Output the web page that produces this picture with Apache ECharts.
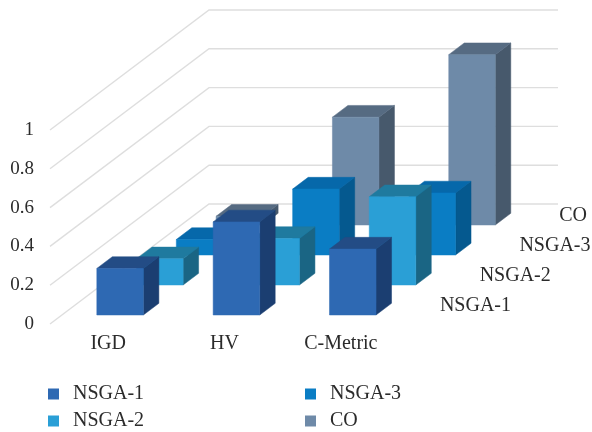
<!DOCTYPE html>
<html>
<head>
<meta charset="utf-8">
<style>html,body{margin:0;padding:0;background:#fff}#chart{width:592px;height:432px}</style>
<script src="https://cdn.jsdelivr.net/npm/echarts@6/dist/echarts.min.js"></script>
</head>
<body>
<div id="chart"></div>
<script>
// Performance metrics per algorithm, read on a 0-1 scale
const categories = ['IGD', 'HV', 'C-Metric'];
const yTicks = [0, 0.2, 0.4, 0.6, 0.8, 1];
const lanes = ['NSGA-1', 'NSGA-2', 'NSGA-3', 'CO'];
const nsga1 = [0.24, 0.48, 0.34];
const nsga2 = [0.135, 0.24, 0.455];
const nsga3 = [0.08, 0.34, 0.32];
const co = [0.045, 0.556, 0.878];
const laneValues = [nsga1, nsga2, nsga3, co];

// Face colours for each lane: front, side, top
const laneColors = [
  ['#2e69b3', '#1b3e71', '#234c85'],
  ['#2a9fd6', '#1a6584', '#1f7a9f'],
  ['#0a7dc4', '#05598f', '#0668aa'],
  ['#6e8aa8', '#47596c', '#566b82']
];

// Oblique projection of the depth axis
const LANE_DX = 39.75, LANE_DY = -30;
const BAR_INSET = 0.3;   // gap before a bar, as a share of the lane
const BAR_DEPTH = 0.39;  // bar depth, as a share of the lane
const BAR_WIDTH = 0.4;   // bar width, as a share of the category band

const shift = (p, d) => [p[0] + LANE_DX * d, p[1] + LANE_DY * d];
const FONT = '"Liberation Serif", serif';
const TEXT_COLOR = '#2b2b2b';

function barSeries(lane) {
  return {
    type: 'custom',
    name: lanes[lane],
    coordinateSystem: 'cartesian2d',
    silent: true,
    itemStyle: { color: laneColors[lane][0] },
    data: laneValues[lane].map((v, i) => [i, v]),
    encode: { x: 0, y: 1 },
    renderItem(params, api) {
      const i = api.value(0), v = api.value(1);
      const w = api.size([1, 0])[0] * BAR_WIDTH;
      const base = api.coord([i, 0]);
      const top = api.coord([i, v]);
      const d0 = lane + BAR_INSET, d1 = d0 + BAR_DEPTH;
      const x0 = base[0] - w / 2, x1 = base[0] + w / 2;
      const fbl = shift([x0, base[1]], d0), fbr = shift([x1, base[1]], d0);
      const ftl = shift([x0, top[1]], d0), ftr = shift([x1, top[1]], d0);
      const bbr = shift([x1, base[1]], d1);
      const btl = shift([x0, top[1]], d1), btr = shift([x1, top[1]], d1);
      const colors = laneColors[lane];
      const face = (points, fill) => ({
        type: 'polygon', shape: { points }, style: { fill, stroke: fill, lineWidth: 0.5 }
      });
      return {
        type: 'group',
        children: [
          face([fbr, bbr, btr, ftr], colors[1]),
          face([ftl, ftr, btr, btl], colors[2]),
          face([fbl, fbr, ftr, ftl], colors[0])
        ]
      };
    }
  };
}

const wallSeries = {
  type: 'custom',
  coordinateSystem: 'cartesian2d',
  silent: true,
  data: yTicks.map(v => [0, v]),
  encode: { x: 0, y: 1 },
  z: 1,
  renderItem(params, api) {
    const y = api.coord([0, api.value(1)])[1];
    const left = params.coordSys.x;
    const front = [left, y];
    const back = shift(front, lanes.length);
    const end = [back[0] + params.coordSys.width, back[1]];
    return {
      type: 'polyline',
      shape: { points: [front, back, end] },
      style: { fill: null, stroke: '#dedede', lineWidth: 1.4 }
    };
  }
};

const laneLabelSeries = {
  type: 'custom',
  coordinateSystem: 'cartesian2d',
  silent: true,
  data: lanes.map((name, i) => [i]),
  z: 5,
  renderItem(params, api) {
    const i = api.value(0);
    const y = api.coord([0, 0])[1];
    const corner = [params.coordSys.x + params.coordSys.width, y];
    const p = shift(corner, i + 0.5);
    return {
      type: 'text',
      x: p[0] + 21,
      y: p[1] - 3,
      style: { text: lanes[i], fill: TEXT_COLOR, font: '20px ' + FONT, align: 'left', verticalAlign: 'middle' }
    };
  }
};

const legendBase = {
  orient: 'vertical',
  icon: 'rect',
  padding: 0,
  itemWidth: 11,
  itemHeight: 11,
  itemGap: 7,
  selectedMode: false,
  textStyle: { fontFamily: FONT, fontSize: 20, color: TEXT_COLOR, padding: [0, 0, 0, 9], lineHeight: 20 }
};

const chart = echarts.init(document.getElementById('chart'), null, { renderer: 'canvas' });
chart.setOption({
  animation: false,
  backgroundColor: '#fff',
  grid: { left: 50, right: 193, top: 130, bottom: 108 },
  xAxis: {
    type: 'category',
    data: categories,
    axisLine: { show: false },
    axisTick: { show: false },
    axisLabel: { fontFamily: FONT, fontSize: 20, color: TEXT_COLOR, margin: 10 }
  },
  yAxis: {
    type: 'value',
    min: 0,
    max: 1,
    interval: 0.2,
    axisLine: { show: false },
    axisTick: { show: false },
    splitLine: { show: false },
    axisLabel: { fontFamily: FONT, fontSize: 19, color: TEXT_COLOR, margin: 16, padding: [0, 0, 9, 0] }
  },
  legend: [
    Object.assign({ left: 48, top: 384, data: ['NSGA-1', 'NSGA-2'] }, legendBase),
    Object.assign({ left: 305, top: 384, data: ['NSGA-3', 'CO'] }, legendBase)
  ],
  series: [wallSeries, barSeries(3), barSeries(2), barSeries(1), barSeries(0), laneLabelSeries]
});
</script>
</body>
</html>
